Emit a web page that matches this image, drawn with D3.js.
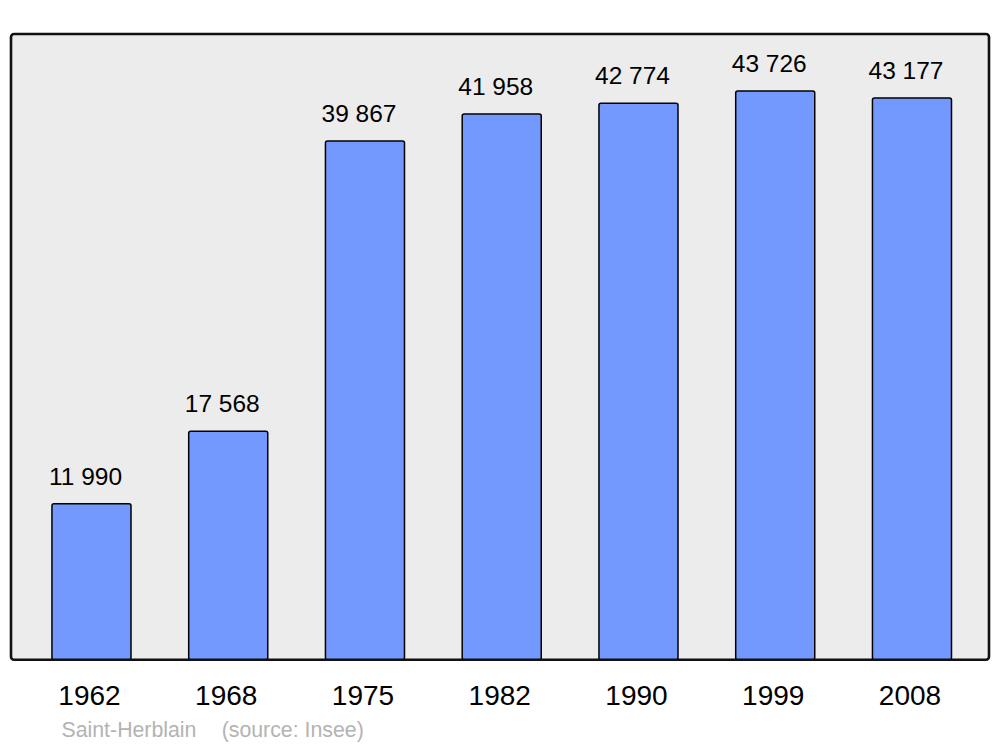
<!DOCTYPE html>
<html>
<head>
<meta charset="utf-8">
<script src="https://cdn.jsdelivr.net/npm/d3@7"></script>
<style>
  html, body { margin: 0; padding: 0; background: #ffffff; }
  svg { display: block; font-family: "Liberation Sans", Arial, sans-serif; }
</style>
</head>
<body>
<svg id="chart" width="1000" height="747"></svg>
<script>
const years = ["1962", "1968", "1975", "1982", "1990", "1999", "2008"];
const population = [11990, 17568, 39867, 41958, 42774, 43726, 43177];
const valueLabels = ["11 990", "17 568", "39 867", "41 958", "42 774", "43 726", "43 177"];
const caption = ["Saint-Herblain", "(source: Insee)"];

const svg = d3.select("#chart");
const frame = { left: 11, top: 34, right: 989, bottom: 659.7 };

const x = d3.scaleBand()
  .domain(years)
  .range([23.1, 980.35])
  .paddingInner(0.422)
  .paddingOuter(0.211);

const y = d3.scaleLinear()
  .domain([0, d3.max(population) * 1.1])
  .range([frame.bottom, frame.top]);

// plot frame background
svg.append("rect")
  .attr("x", frame.left)
  .attr("y", frame.top)
  .attr("width", frame.right - frame.left)
  .attr("height", frame.bottom - frame.top)
  .attr("rx", 3)
  .attr("fill", "#ececec");

const data = years.map((yr, i) => ({ year: yr, value: population[i], label: valueLabels[i] }));

svg.append("g").selectAll("rect")
  .data(data)
  .join("rect")
  .attr("x", d => x(d.year))
  .attr("y", d => y(d.value))
  .attr("width", x.bandwidth())
  .attr("height", d => y(0) - y(d.value))
  .attr("rx", 2)
  .attr("fill", "#7399ff")
  .attr("stroke", "#000")
  .attr("stroke-width", 1.5);

// frame border on top
svg.append("rect")
  .attr("x", frame.left)
  .attr("y", frame.top)
  .attr("width", frame.right - frame.left)
  .attr("height", frame.bottom - frame.top)
  .attr("rx", 3)
  .attr("fill", "none")
  .attr("stroke", "#111")
  .attr("stroke-width", 2.6);

// value labels
svg.append("g").selectAll("text")
  .data(data)
  .join("text")
  .attr("x", d => x(d.year) + x.bandwidth() / 2)
  .attr("dx", -6)
  .attr("y", d => y(d.value) - 19)
  .attr("text-anchor", "middle")
  .attr("font-size", 24.5)
  .attr("fill", "#000")
  .text(d => d.label);

// x axis labels
const xAxis = d3.axisBottom(x).tickSize(0).tickPadding(0);
const gx = svg.append("g")
  .attr("transform", `translate(0,${frame.bottom})`)
  .call(xAxis);
gx.select(".domain").remove();
gx.selectAll("text")
  .attr("y", 0)
  .attr("dy", 0)
  .attr("transform", "translate(-2,45.5)")
  .attr("font-size", 28)
  .attr("font-family", "Liberation Sans, Arial, sans-serif")
  .attr("fill", "#000");

// caption
svg.append("text")
  .attr("x", 61.5)
  .attr("y", 737)
  .attr("font-size", 21.3)
  .attr("fill", "#b3b3b3")
  .text(caption[0]);
svg.append("text")
  .attr("x", 221.7)
  .attr("y", 737)
  .attr("font-size", 21.3)
  .attr("fill", "#b3b3b3")
  .text(caption[1]);
</script>
</body>
</html>
